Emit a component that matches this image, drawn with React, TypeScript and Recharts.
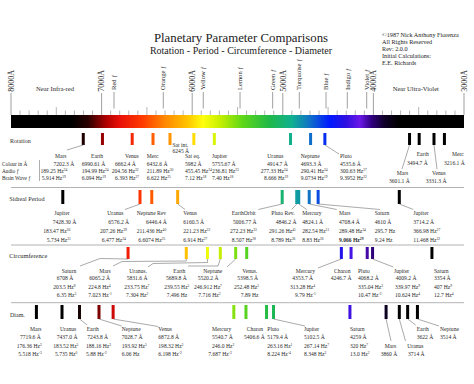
import React from "react";
import { ScatterChart, Scatter, XAxis, YAxis, ReferenceArea, ReferenceLine } from "recharts";

const FONT = '"Liberation Serif", "Times New Roman", serif';
const INK = "#2a2a2a";

// spectrum colour stops (wavelength in Å, colour)
const spectrumWl = [8000, 7330, 7150, 6950, 6800, 6550, 6300, 6050, 5880, 5700, 5450, 5150, 4900, 4700, 4480, 4300, 4150, 4020, 3880, 3720, 3000];
const spectrumCol = ["#000000", "#000000", "#2a0000", "#b00000", "#e81008", "#ff3a00", "#ff8800", "#ffc400", "#ffff10", "#c8f000", "#60d818", "#20b848", "#10b090", "#1070c8", "#0018ff", "#3010e0", "#6a18e8", "#300080", "#100028", "#000000", "#000000"];

// scale ticks and colour markers above the spectrum
const scaleTicks = Array.from({ length: 51 }, (_, i) => 3000 + i * 100);
const colourMarks = [6863, 6319, 5878, 5472, 5112, 4818, 4523, 4288, 4074];
const colourMarkLabels = ["Red ƒ", "Orange ƒ", "Yellow ƒ", "Lemon ƒ", "Green ƒ", "Turquoise ƒ", "Blue ƒ", "Indigo ƒ", "Violet ƒ"];

// Rotation
const rotNames = ["Mars", "Earth", "Venus", "Merc", "Sat int.", "Sat eq.", "Jupiter", "Uranus", "Neptune", "Pluto", "Mars", "Earth", "Venus", "Merc"];
const rotColour = ["7202.3", "6990.61", "6662.4", "6432.6", "6245", "5982", "5755.67", "4914.7", "4693.3", "4535.6", "3601.1", "3494.7", "3331.3", "3216.1"];
const rotAudio = ["189.25", "194.99", "204.56", "211.89", "", "455.45", "236.81", "277.33", "290.41", "300.63", "", "", "", ""];
const rotAudioOct = ["24", "24", "32", "30", "", "24", "23", "24", "24", "27", "", "", "", ""];
const rotBrain = ["5.914", "6.094", "6.393", "6.622", "", "7.12", "7.40", "8.666", "9.0734", "9.3952", "", "", "", ""];
const rotBrainOct = ["19", "19", "27", "25", "", "18", "18", "19", "19", "22", "", "", "", ""];

// Sidreal Period
const sidNames = ["Jupiter", "Uranus", "Neptune Rev", "Venus", "EarthOrbit", "Pluto Rev.", "Mercury", "Mars", "Saturn", "Jupiter"];
const sidColour = ["7428.30", "6576.2", "6446.4", "6160.5", "5006.77", "4846.2", "4824.1", "4708.4", "4610", "3714.2"];
const sidAudio = ["183.47", "207.26", "211.436", "221.23", "272.23", "291.26", "282.54", "289.48", "295.7", "366.98"];
const sidAudioOct = ["36", "39", "40", "32", "33", "41", "31", "34", "", "37"];
const sidBrain = ["5.734", "6.477", "6.6074", "6.914", "8.507", "8.789", "8.83", "9.066", "9.24", "11.468"];
const sidBrainOct = ["31", "34", "35", "27", "28", "36", "26", "29", "", "32"];

// Circumference
const circNames = ["Saturn", "Mars", "Uranus.", "Earth", "Neptune", "Venus.", "Mercury", "Charon", "Pluto", "Jupiter", "Saturn"];
const circColour = ["6708", "6065.2", "5831.6", "5689.8", "5520.2", "5398.5", "4353.7", "4246.7", "4068.2", "4009.2", "3354"];
const circAudio = ["203.5", "224.8", "233.75", "239.55", "246.912", "252.48", "313.28", "", "335.04", "339.97", "407"];
const circAudioOct = ["8", "4", "7", "5", "7", "5", "4", "", "3", "9", "9"];
const circBrain = ["6.35", "7.023", "7.304", "7.496", "7.716", "7.89", "9.79", "", "10.47", "10.624", "12.7"];
const circBrainOct = ["3", "-1", "2", "", "2", "", "-1", "", "-2", "4", "4"];

// Diameter
const diamNames = ["Mars", "Uranus", "Earth", "Neptune", "Venus", "Mercury", "Charon", "Pluto", "Jupiter", "Saturn", "Mars", "Uranus", "Earth", "Neptune"];
const diamColour = ["7719.6", "7437.0", "7243.8", "7028.7", "6872.8", "5540.7", "5406.6", "5179.4", "5102.5", "4259", "3860", "3714", "3622", "3514"];
const diamAudio = ["176.36", "183.52", "188.16", "193.92", "198.32", "246.0", "", "263.16", "267.14", "320", "", "", "", ""];
const diamAudioOct = ["2", "5", "3", "5", "3", "2", "", "1", "7", "7", "", "", "", ""];
const diamBrain = ["5.518", "5.735", "5.88", "6.06", "6.198", "7.687", "", "8.224", "8.348", "13.0", "", "", "", ""];
const diamBrainOct = ["-3", "0", "-2", "", "-2", "-3", "", "-4", "2", "2", "", "", "", ""];

// ---- layout (pixel positions of labels and leader lines) ----
type Row = { top: number; h: number; ny: number; vy: number; hy: number; by: number };
type Lay = { nx: number; vx: number; hx?: number; bx?: number; ny?: number; vy?: number; lead?: number[][]; bold?: boolean };

const rotRow: Row = { top: 133, h: 12, ny: 157.5, vy: 165.7, hy: 172.5, by: 179.5 };
const sidRow: Row = { top: 190, h: 14, ny: 214.5, vy: 223.5, hy: 232.5, by: 241.7 };
const circRow: Row = { top: 247, h: 12, ny: 272.5, vy: 280, hy: 288.5, by: 296.7 };
const diamRow: Row = { top: 305, h: 14, ny: 330.7, vy: 338.5, hy: 347.7, by: 355.7 };

const rotLay: Lay[] = [
  { nx: 55, vx: 53.5, hx: 40.5, bx: 41.7, lead: [[67, 150]] },
  { nx: 91, vx: 81.7, hx: 81.7, bx: 81.7 },
  { nx: 125, vx: 115, hx: 111.7, bx: 115 },
  { nx: 146.7, vx: 146.7 },
  { nx: 172.5, ny: 146.5, vx: 172.5, vy: 152.5 },
  { nx: 185, vx: 185 },
  { nx: 212, vx: 212 },
  { nx: 267.3, vx: 267, hx: 260.7, bx: 264 },
  { nx: 300.7, vx: 300.7 },
  { nx: 340, vx: 340, lead: [[339, 154]] },
  { nx: 396.7, ny: 175, vx: 389, vy: 182.5, lead: [[402, 169]] },
  { nx: 416.7, ny: 156, vx: 407, vy: 165 },
  { nx: 432, ny: 175, vx: 425.7, vy: 182.5, lead: [[437, 169]] },
  { nx: 452, ny: 156, vx: 444, vy: 165 },
];

const sidLay: Lay[] = [
  { nx: 54.3, vx: 52.7, hx: 43.3, bx: 46.7 },
  { nx: 107.3, vx: 108.3, hx: 100, bx: 101.7, lead: [[125, 209.5]] },
  { nx: 136.7, vx: 146, hx: 136.7, bx: 138.3 },
  { nx: 183.3, vx: 183.3, lead: [[185, 209.5]] },
  { nx: 231.7, vx: 233, hx: 230, bx: 231.7, lead: [[258.3, 209.5]] },
  { nx: 271.3, vx: 275.7, hx: 269, bx: 271.3, lead: [[291.7, 209.5]] },
  { nx: 302.3, vx: 302.3, lead: [[306.7, 209.5]] },
  { nx: 339, vx: 339, lead: [[336.7, 209.5]], bold: true },
  { nx: 374.7, vx: 374.7, lead: [[380, 209.5]] },
  { nx: 413.3, vx: 413.3, lead: [[413.3, 209.5]] },
];

const circLay: Lay[] = [
  { nx: 61.7, vx: 56.7, hx: 53.3, bx: 56.7, lead: [[100, 258.5], [80, 266]] },
  { nx: 99.3, vx: 89.3, hx: 88.3, bx: 88.3, lead: [[186.3, 261], [122, 261.5], [113, 266]] },
  { nx: 129.3, vx: 126.7, hx: 124.3, bx: 126, lead: [[207.5, 262.5], [153, 263.5], [148, 267]] },
  { nx: 173.3, vx: 166, hx: 164.3, bx: 166.7, lead: [[218, 266], [188, 266]] },
  { nx: 203.3, vx: 197.7, hx: 194, bx: 198.3, lead: [[227, 267]] },
  { nx: 242.3, vx: 237.3, hx: 234, bx: 240.7 },
  { nx: 295.7, vx: 292.3, hx: 290, bx: 295, lead: [[318, 268]] },
  { nx: 334, vx: 330.7 },
  { nx: 358, vx: 358 },
  { nx: 394, vx: 395.7, hx: 395, bx: 395, lead: [[393.3, 267]] },
  { nx: 434, vx: 434 },
];

const diamLay: Lay[] = [
  { nx: 30, vx: 20, hx: 16.7, bx: 18.3 },
  { nx: 60, vx: 56.7, hx: 53.3, bx: 55 },
  { nx: 86.7, vx: 87.3, hx: 86, bx: 86, lead: [[87.3, 325]] },
  { nx: 121.7, vx: 121.7, lead: [[121.7, 326]] },
  { nx: 158.3, vx: 158.3, lead: [[158.3, 326.5]] },
  { nx: 212, vx: 212, hx: 212, bx: 208.3 },
  { nx: 246.7, vx: 244 },
  { nx: 267.3, vx: 267.3 },
  { nx: 304, vx: 304, lead: [[305, 326]] },
  { nx: 350, vx: 350 },
  { nx: 384.7, ny: 347.7, vx: 380.7, vy: 355.7, lead: [[391, 341]] },
  { nx: 407.3, ny: 347.7, vx: 408, vy: 355.7, lead: [[405.5, 341]] },
  { nx: 416.7, vx: 416.7, lead: [[415.7, 325]] },
  { nx: 440, vx: 440, lead: [[439, 326]] },
];

const toRgb = (h: string) => [1, 3, 5].map((i) => parseInt(h.slice(i, i + 2), 16));

function colourAt(wl: number) {
  for (let i = 0; i < spectrumWl.length - 1; i++) {
    const a = spectrumWl[i];
    const b = spectrumWl[i + 1];
    if (wl <= a && wl >= b) {
      const t = (a - wl) / (a - b);
      const ca = toRgb(spectrumCol[i]);
      const cb = toRgb(spectrumCol[i + 1]);
      const c = ca.map((v, k) => Math.round(v + (cb[k] - v) * t));
      return `rgb(${c[0]},${c[1]},${c[2]})`;
    }
  }
  return "#000";
}

function build(names: string[], colour: string[], audio: string[], audioOct: string[], brain: string[], brainOct: string[], lay: Lay[], row: Row) {
  return names.map((name, i) => ({
    x: Number(colour[i]),
    y: row.top,
    name,
    colour: colour[i],
    audio: audio[i],
    audioOct: audioOct[i],
    brain: brain[i],
    brainOct: brainOct[i],
    ...lay[i],
  }));
}

const rotData = build(rotNames, rotColour, rotAudio, rotAudioOct, rotBrain, rotBrainOct, rotLay, rotRow);
const sidData = build(sidNames, sidColour, sidAudio, sidAudioOct, sidBrain, sidBrainOct, sidLay, sidRow);
const circData = build(circNames, circColour, circAudio, circAudioOct, circBrain, circBrainOct, circLay, circRow);
const diamData = build(diamNames, diamColour, diamAudio, diamAudioOct, diamBrain, diamBrainOct, diamLay, diamRow);

const txt = { fontFamily: FONT, fontSize: 5.6, fill: INK };

const HzText = ({ x, y, val, oct, bold }: any) =>
  val ? (
    <text x={x} y={y} {...txt} fontWeight={bold ? 700 : 400}>
      {val} Hz
      {oct ? (
        <tspan dy={-2} fontSize={3.6}>
          {oct}
        </tspan>
      ) : null}
    </text>
  ) : null;

const makeShape = (row: Row) => (props: any) => {
  const { cx, cy, payload: p } = props;
  if (cx == null || cy == null) return <g />;
  const pts = [[cx, cy + row.h], ...(p.lead || [])];
  const hx = p.hx ?? p.vx;
  const bx = p.bx ?? hx;
  return (
    <g>
      <rect x={cx - 1.5} y={cy} width={3} height={row.h} fill={colourAt(p.x)} />
      {p.lead ? <polyline points={pts.map((q) => q.join(",")).join(" ")} fill="none" stroke="#707070" strokeWidth={0.6} /> : null}
      <text x={p.nx} y={p.ny ?? row.ny} {...txt}>
        {p.name}
      </text>
      <text x={p.vx} y={p.vy ?? row.vy} {...txt}>
        {p.colour} Å
      </text>
      <HzText x={hx} y={row.hy} val={p.audio} oct={p.audioOct} />
      <HzText x={bx} y={row.by} val={p.brain} oct={p.brainOct} bold={p.bold} />
    </g>
  );
};

const SpectrumTick = (props: any) => {
  const { x, y, payload } = props;
  const v = payload.value;
  const mi = colourMarks.indexOf(v);
  if (mi >= 0) {
    return (
      <g>
        <line x1={x} x2={x} y1={y - 23} y2={y - 6.5} stroke="#777" strokeWidth={0.7} />
        <text transform={`translate(${x + 2.2},${y - 25}) rotate(-90)`} fontFamily={FONT} fontSize={6.6} fill={INK}>
          {colourMarkLabels[mi]}
        </text>
      </g>
    );
  }
  if (v % 1000 === 0) {
    return (
      <g>
        <line x1={x} x2={x} y1={y - 22} y2={y} stroke="#777" strokeWidth={0.7} />
        <text transform={`translate(${x + 2.7},${y - 23.3}) rotate(-90)`} fontFamily={FONT} fontSize={8} fill="#1a1a1a">
          {v}Å
        </text>
      </g>
    );
  }
  const len = v % 500 === 0 ? 8 : 4.5;
  return <line x1={x} x2={x} y1={y - len} y2={y} stroke="#888" strokeWidth={0.6} />;
};

const copyright = ["©1987 Nick Anthony Fiorenza", "All Rights Reserved", "Rev: 2.0.0", "Initial Calculations:", "E.E. Richards"];
const copyrightY = [37, 44.2, 51, 58, 64.7];

export default function App() {
  return (
    <div style={{ position: "absolute", left: 0, top: 0, width: 474, height: 384, background: "#fff" }}>
      <ScatterChart width={474} height={384} margin={{ top: 85, right: 10, bottom: 0, left: 11 }}>
        <defs>
          <linearGradient id="spectrum" x1="0" y1="0" x2="1" y2="0">
            {spectrumWl.map((wl, i) => (
              <stop key={i} offset={(8000 - wl) / 5000} stopColor={spectrumCol[i]} />
            ))}
          </linearGradient>
        </defs>
        <XAxis
          type="number"
          dataKey="x"
          orientation="top"
          domain={[3000, 8000]}
          reversed
          ticks={[...scaleTicks, ...colourMarks]}
          interval={0}
          height={30}
          tickSize={0}
          tickMargin={0}
          axisLine={false}
          tickLine={false}
          tick={<SpectrumTick />}
        />
        <YAxis type="number" dataKey="y" domain={[115, 384]} reversed hide width={0} />

        <ReferenceArea x1={8000} x2={3000} y1={115} y2={128} fill="url(#spectrum)" fillOpacity={1} stroke="none" />
        <ReferenceLine y={187.5} stroke="#a0a0a0" strokeWidth={0.8} />
        <ReferenceLine y={245} stroke="#a0a0a0" strokeWidth={0.8} />
        <ReferenceLine y={302.7} stroke="#a0a0a0" strokeWidth={0.8} />

        <Scatter data={rotData} shape={makeShape(rotRow)} isAnimationActive={false} />
        <Scatter data={sidData} shape={makeShape(sidRow)} isAnimationActive={false} />
        <Scatter data={circData} shape={makeShape(circRow)} isAnimationActive={false} />
        <Scatter data={diamData} shape={makeShape(diamRow)} isAnimationActive={false} />

        <text x={241} y={41.5} textAnchor="middle" fontFamily={FONT} fontSize={12.8} fill="#222">
          Planetary Parameter Comparisons
        </text>
        <text x={241} y={54.3} textAnchor="middle" fontFamily={FONT} fontSize={10} fill="#222">
          Rotation - Period - Circumference - Diameter
        </text>
        {copyright.map((c, i) => (
          <text key={c} x={382} y={copyrightY[i]} fontFamily={FONT} fontSize={6.2} fill="#222">
            {c}
          </text>
        ))}
        <text x={55} y={90.5} textAnchor="middle" fontFamily={FONT} fontSize={6.6} fill={INK}>
          Near Infra-red
        </text>
        <text x={415.8} y={90.5} textAnchor="middle" fontFamily={FONT} fontSize={6.6} fill={INK}>
          Near Ultra-Violet
        </text>

        <text x={10} y={142.5} fontFamily={FONT} fontSize={6} fill={INK}>Rotation</text>
        <text x={2} y={165.7} fontFamily={FONT} fontSize={5.3} fill={INK}>Colour in Å</text>
        <text x={2} y={172.5} fontFamily={FONT} fontSize={5.3} fill={INK}>Audio ƒ</text>
        <text x={2} y={179.5} fontFamily={FONT} fontSize={5.3} fill={INK}>Brain Wave ƒ</text>
        <line x1={39.5} x2={39.5} y1={160} y2={181} stroke="#777" strokeWidth={0.6} />
        <text x={9.3} y={200.7} fontFamily={FONT} fontSize={6.2} fill={INK}>Sidreal Period</text>
        <text x={9.3} y={258.3} fontFamily={FONT} fontSize={6.4} fill={INK}>Circumference</text>
        <text x={10} y={316.7} fontFamily={FONT} fontSize={6} fill={INK}>Diam.</text>
      </ScatterChart>
    </div>
  );
}
